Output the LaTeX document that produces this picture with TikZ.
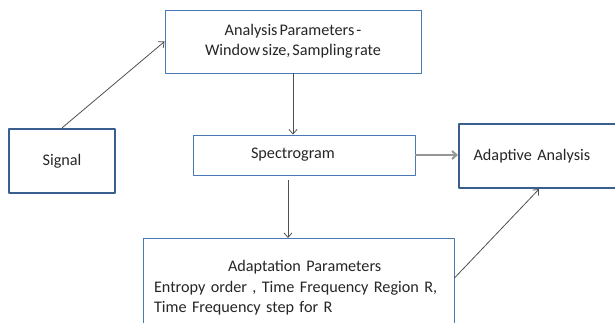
\documentclass[tikz,border=0pt]{standalone}
\usepackage{fontspec}
\setmainfont{Carlito}[WordSpace=0.55]
\usepackage{tikz}
\usetikzlibrary{arrows.meta,calc}
\definecolor{afedge}{RGB}{74,120,180}
\definecolor{afthick}{RGB}{58,95,143}
\definecolor{afarr}{RGB}{80,80,80}
\definecolor{afgray}{RGB}{150,150,150}
\tikzset{
  afbox/.style={
    draw=afedge, line width=0.9pt, fill=white,
    inner sep=0pt, text=black!85
  },
  inbox/.style={afbox, draw=afthick, line width=2.2pt},
  arr/.style={-{Straight Barb[length=4.5pt,width=8pt]}, draw=afarr, line width=0.8pt},
  garr/.style={arr, draw=afgray, line width=2pt},
  every picture/.append style={
    font=\fontsize{16.2}{20.5}\selectfont, line join=round
  }
}

\begin{document}
\begin{tikzpicture}[x=1pt,y=-1pt]
  \useasboundingbox (0,0) rectangle (615,322);
  \clip (0,0) rectangle (615,322);
  \node[inbox, minimum width=106pt, minimum height=64pt] (sig) at (62,161) {Signal};
  \node[afbox, minimum width=256pt, minimum height=63pt, align=center] (apar) at (293,41.5)
    {Analysis Parameters -\\Window size, Sampling rate};
  \node[afbox, minimum height=40pt, text width=106pt, inner xsep=58pt, align=left] (spec) at (304,155)
    {Spectrogram};
  \node[inbox, anchor=west, minimum height=64pt, text width=160pt, inner xsep=14.5pt, align=left] (adapt) at (458,156)
    {Adaptive Analysis};
  \node[afbox, anchor=north, text width=289.5pt, inner xsep=10.5pt, inner ysep=22pt, align=left] (adpar) at (298.75,238)
    {\hspace*{74pt}Adaptation Parameters\\
     Entropy order , Time Frequency Region R,\\
     Time Frequency step for R};
  \draw[arr] (sig.north) -- (apar.west);
  \draw[arr] (apar.south) -- (apar.south |- spec.north);
  \draw[garr] (spec.east) -- (adapt.west |- spec.east);
  \draw[arr] ([xshift=-16pt,yshift=-5pt]spec.south) -- ([xshift=-16pt]spec.south |- adpar.north);
  \draw[arr] ([yshift=-40pt]adpar.north east) -- ([xshift=81pt]adapt.south west);
\end{tikzpicture}
\end{document}
